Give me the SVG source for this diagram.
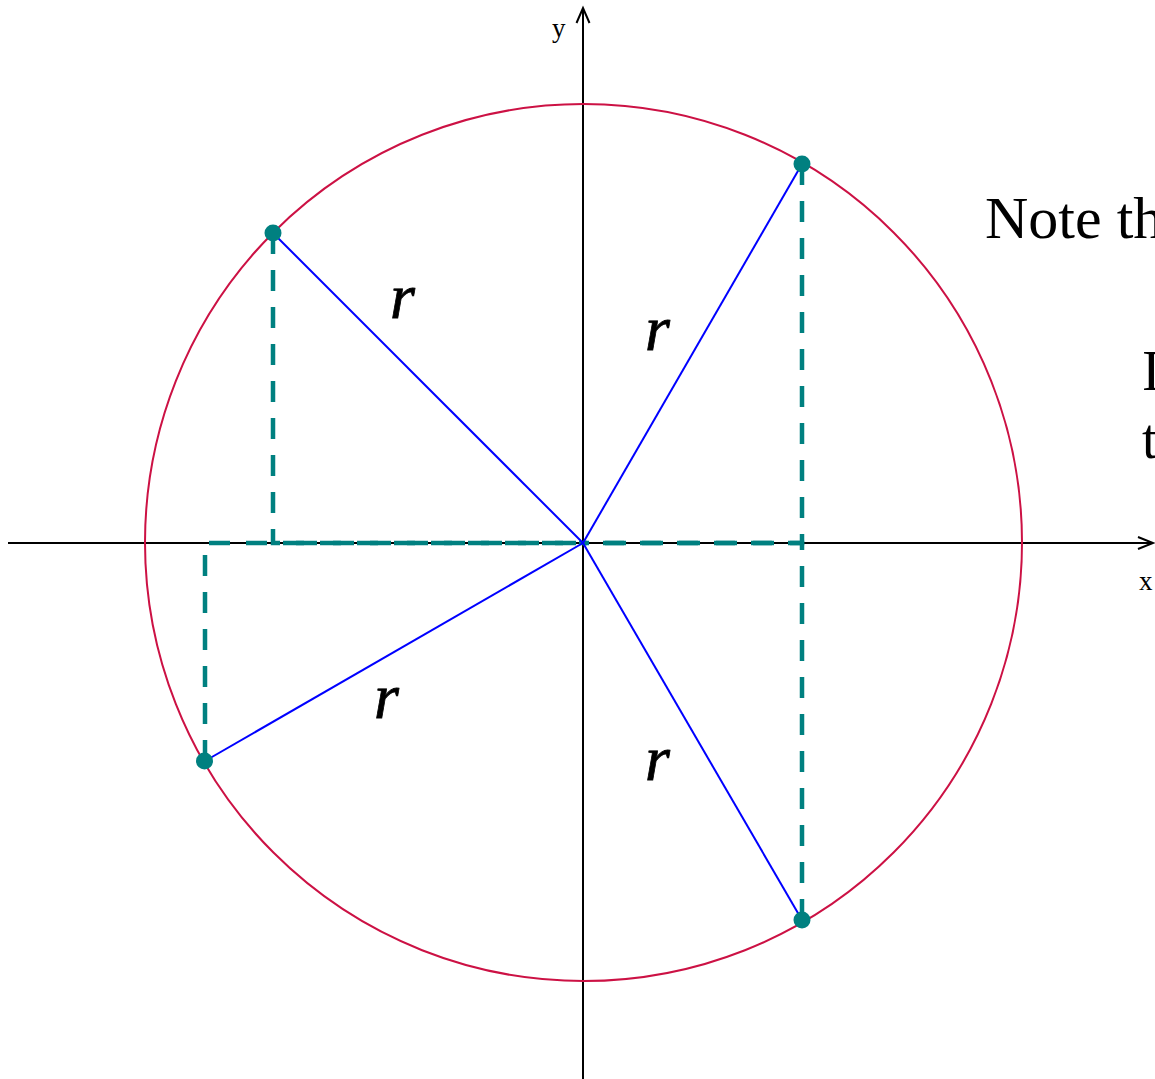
<svg xmlns="http://www.w3.org/2000/svg" width="1155" height="1079" viewBox="0 0 1155 1079">
<style>
.axis{stroke:#000;stroke-width:2;fill:none}
.circ{stroke:#cc1144;stroke-width:2;fill:none}
.rad{stroke:#0000ff;stroke-width:2;fill:none}
.dash{stroke:#008080;stroke-width:4.5;stroke-dasharray:21 16;fill:none}
.dot{fill:#008080}
.lab{font-family:"Liberation Serif","Times New Roman",serif;font-size:64px;font-style:italic;fill:#000;stroke:#000;stroke-width:0.8}
.ax{font-family:"Liberation Serif",serif;font-size:27px;fill:#000}
.note{font-family:"Liberation Serif",serif;fill:#000}
</style>
<rect width="1155" height="1079" fill="#fff"/>
<g id="axes">
<line class="axis" x1="8" y1="543" x2="1153" y2="543"/>
<polyline class="axis" points="1138,537 1153,543 1138,549"/>
<line class="axis" x1="583" y1="1079" x2="583" y2="8"/>
<polyline class="axis" points="576.5,23 583,8 589.5,23"/>
<text class="ax" x="552" y="37">y</text>
<text class="ax" x="1139" y="590">x</text>
</g>
<g id="circle">
<circle class="circ" cx="583.5" cy="542.5" r="438.5"/>
</g>
<g id="connectors">
<path class="dash" d="M205,761 V543 H583"/>
<path class="dash" d="M273,233 V543 H583"/>
<path class="dash" d="M802,164 V543 H583"/>
<path class="dash" d="M802,920 V543 H583"/>
<line class="rad" x1="583" y1="543" x2="802" y2="164"/>
<line class="rad" x1="583" y1="543" x2="273" y2="233"/>
<line class="rad" x1="583" y1="543" x2="205" y2="761"/>
<line class="rad" x1="583" y1="543" x2="802" y2="920"/>
</g>
<g id="p60"><circle class="dot" cx="802" cy="164" r="8.5"/></g>
<g id="p135"><circle class="dot" cx="273" cy="233" r="8.5"/></g>
<g id="p210"><circle class="dot" cx="204.5" cy="761" r="8.5"/></g>
<g id="p300"><circle class="dot" cx="802" cy="920" r="8.5"/></g>
<g id="labels">
<text class="lab" x="390" y="318">r</text>
<text class="lab" x="645" y="350">r</text>
<text class="lab" x="374" y="718">r</text>
<text class="lab" x="645" y="780">r</text>
</g>
<g id="note">
<text class="note" x="985" y="238" font-size="60">Note th</text>
<text class="note" x="1142" y="390" font-size="56">I</text>
<text class="note" x="1142" y="458" font-size="56">t</text>
</g>
</svg>
